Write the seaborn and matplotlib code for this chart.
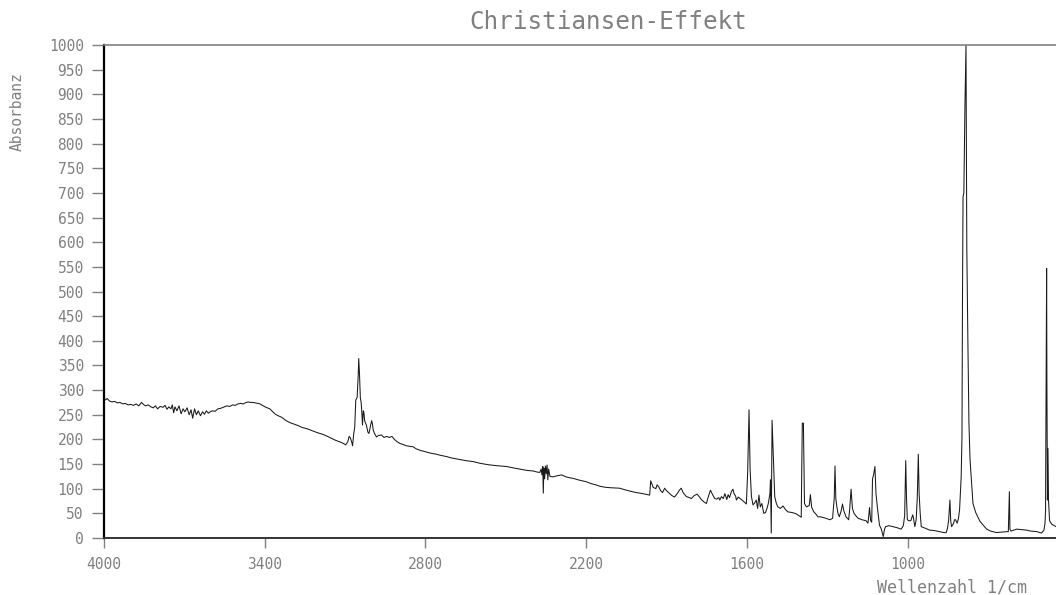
import matplotlib
matplotlib.use("Agg")
import matplotlib.pyplot as plt
import seaborn as sns
import pandas as pd

# Wavenumber (1/cm) and absorbance values
wellenzahl = [
    4000, 3995, 3988, 3980, 3970, 3960, 3950, 3940, 3930, 3920, 3910, 3900, 3890, 3880, 3870,
    3860, 3853, 3845, 3835, 3825, 3816, 3808, 3800, 3790, 3780, 3772, 3765, 3758, 3750, 3745,
    3740, 3735, 3728, 3720, 3712, 3705, 3698, 3690, 3682, 3675, 3669, 3662, 3655, 3648, 3640,
    3632, 3625, 3618, 3610, 3604, 3595, 3585, 3575, 3565, 3555, 3542, 3530, 3520, 3510, 3500,
    3490, 3480, 3470, 3460, 3455, 3445, 3435, 3425, 3418, 3405, 3395, 3381, 3370, 3360, 3350,
    3337, 3320, 3306, 3290, 3275, 3260, 3244, 3230, 3215, 3200, 3182, 3165, 3150, 3135, 3120,
    3107, 3098, 3090, 3085, 3080, 3075, 3072, 3068, 3064, 3060, 3055, 3051, 3049, 3046, 3043,
    3040, 3037, 3035, 3032, 3030, 3027, 3020, 3015, 3011, 3006, 3001, 2998, 2995, 2990, 2983,
    2975, 2964, 2955, 2945, 2935, 2925, 2914, 2905, 2896, 2885, 2871, 2858, 2846, 2835, 2821,
    2800, 2780, 2760, 2746, 2720, 2700, 2680, 2650, 2622, 2600, 2570, 2540, 2497, 2470, 2440,
    2420, 2398, 2385, 2373, 2368, 2365, 2362, 2360, 2358, 2355, 2352, 2349, 2346, 2343, 2340,
    2335, 2324, 2310, 2292, 2275, 2260, 2249, 2230, 2215, 2199, 2180, 2165, 2149, 2130, 2110,
    2075, 2050, 2020, 2000, 1980, 1963, 1959, 1955, 1950, 1940, 1935, 1928, 1922, 1915, 1907,
    1900, 1890, 1880, 1870, 1860, 1852, 1845, 1838, 1826, 1815, 1807, 1797, 1786, 1778, 1770,
    1760, 1751, 1745, 1736, 1728, 1720, 1712, 1705, 1701, 1695, 1688, 1682, 1675, 1670, 1665,
    1658, 1652, 1648, 1642, 1639, 1632, 1625, 1618, 1610, 1602, 1597, 1592, 1588, 1583, 1577,
    1570, 1565, 1560, 1555, 1550, 1544, 1537, 1530, 1525, 1520, 1514, 1512, 1509, 1506, 1502,
    1496, 1490, 1484, 1475, 1465, 1455, 1447, 1435, 1420, 1410, 1400, 1397, 1395, 1393, 1389,
    1387, 1385, 1378, 1367, 1363, 1358, 1350, 1340, 1335, 1325, 1305, 1290, 1280, 1274, 1271,
    1268, 1264, 1260, 1255, 1248, 1243, 1238, 1230, 1220, 1216, 1211, 1206, 1200, 1193, 1185,
    1170, 1155, 1148, 1142, 1138, 1134, 1131, 1127, 1122, 1118, 1113, 1105, 1098, 1091, 1086,
    1082, 1070, 1055, 1040, 1024, 1016, 1011, 1007, 1004, 1001, 995, 988, 981, 978, 973,
    968, 964, 960, 957, 953, 949, 935, 918, 900, 881, 865, 856, 851, 847, 842,
    839, 836, 828, 825, 821, 815, 810, 806, 800, 797, 795, 793, 790, 786, 782,
    779, 775, 771, 767, 762, 756, 746, 738, 730, 719, 705, 690, 668, 650, 624,
    620, 618, 614, 593, 575, 556, 540, 518, 500, 491, 487, 485, 483, 481, 480,
    478, 476, 474, 470, 462, 446,
]
absorbanz = [
    285, 280, 283, 278, 276, 277, 274, 275, 272, 273, 270, 271, 269, 272, 268,
    275, 271, 268, 270, 266, 264, 268, 262, 267, 265, 269, 261, 266, 262, 270,
    254, 266, 258, 268, 252, 262, 256, 264, 250, 260, 243, 262, 250, 258, 248,
    256, 251, 258, 253, 256, 258, 257, 262, 263, 265, 268, 267, 270, 269, 272,
    273, 272, 275, 276, 275, 275, 274, 273, 272, 268, 265, 262, 256, 251, 248,
    245, 238, 234, 231, 228, 224, 222, 219, 216, 213, 210, 206, 202, 198, 195,
    192, 189, 195, 206, 203, 194, 187, 210, 225, 280, 285, 330, 364, 330, 284,
    275, 250, 229, 258, 256, 238, 228, 215, 212, 225, 238, 232, 219, 212, 205,
    208, 209, 204, 206, 204, 206, 199, 195, 192, 190, 187, 186, 185, 181, 178,
    175, 172, 170, 168, 165, 162, 160, 157, 155, 152, 149, 147, 145, 142, 139,
    137, 136, 134, 133, 140, 128, 145, 91, 142, 120, 146, 130, 148, 118, 140,
    125, 124, 126, 128, 124, 122, 121, 118, 116, 114, 110, 108, 105, 103, 102,
    101, 97, 93, 91, 89, 87, 116, 110, 103, 100, 108, 103, 96, 92, 101,
    96, 91, 86, 83, 90, 97, 101, 92, 84, 82, 80, 86, 89, 84, 78,
    73, 70, 82, 97, 88, 80, 79, 82, 77, 84, 80, 90, 78, 88, 82,
    94, 99, 90, 85, 77, 83, 80, 77, 73, 69, 134, 260, 140, 84, 67,
    72, 77, 60, 87, 63, 70, 50, 52, 60, 70, 90, 118, 10, 239, 178,
    84, 70, 63, 60, 65, 57, 53, 52, 50, 47, 43, 42, 150, 233, 233,
    150, 70, 63, 66, 88, 62, 53, 47, 43, 43, 40, 37, 40, 80, 146,
    80, 63, 50, 43, 55, 69, 55, 43, 37, 60, 99, 60, 50, 45, 40,
    37, 35, 30, 62, 35, 32, 120, 128, 145, 90, 63, 26, 18, 3, 18,
    23, 25, 23, 21, 18, 25, 45, 157, 80, 37, 35, 35, 47, 40, 23,
    37, 80, 170, 90, 50, 23, 20, 16, 15, 13, 11, 11, 20, 35, 77,
    35, 23, 30, 37, 37, 30, 40, 57, 124, 205, 500, 692, 700, 875, 1000,
    591, 400, 233, 160, 118, 70, 52, 43, 34, 27, 18, 14, 11, 12, 13,
    94, 18, 14, 18, 17, 16, 14, 13, 10, 16, 30, 57, 320, 547, 320,
    77, 182, 77, 35, 28, 23,
]

x_ticks = [4000, 3400, 2800, 2200, 1600, 1000]
y_ticks = list(range(0, 1001, 50))

df = pd.DataFrame({"Wellenzahl": wellenzahl, "Absorbanz": absorbanz})

sns.set_style("ticks")
plt.rcParams["font.family"] = ["DejaVu Sans Mono", "DejaVu Sans"]

gray = "#808080"
fig = plt.figure(figsize=(10.56, 5.95), dpi=100)
ax = fig.add_axes([104 / 1056, 1 - 538 / 595, 952 / 1056, (538 - 45) / 595])

sns.lineplot(data=df, x="Wellenzahl", y="Absorbanz", estimator=None, sort=False,
             color="#1a1a1a", linewidth=0.75, ax=ax)

ax.set_xlim(4000, 446)
ax.set_ylim(0, 1000)
ax.set_xticks(x_ticks)
ax.set_xticklabels([str(t) for t in x_ticks])
ax.set_yticks(y_ticks)
ax.set_yticklabels([str(t) for t in y_ticks])
ax.set_xlabel("")
ax.set_ylabel("")

ax.tick_params(axis="y", direction="out", length=8.5, width=1.0, color=gray,
               labelcolor=gray, labelsize=10.5, pad=6)
ax.tick_params(axis="x", direction="out", length=7, width=1.0, color=gray,
               labelcolor=gray, labelsize=10.5, pad=7)

ax.spines["left"].set_color("black")
ax.spines["left"].set_linewidth(1.6)
ax.spines["bottom"].set_color("#333333")
ax.spines["bottom"].set_linewidth(1.4)
ax.spines["top"].set_visible(True)
ax.spines["top"].set_color(gray)
ax.spines["top"].set_linewidth(1.2)
ax.spines["right"].set_visible(False)

fig.text(608 / 1056, 1 - 22 / 595, "Christiansen-Effekt", ha="center", va="center",
         fontsize=17.5, color=gray)
fig.text(17 / 1056, 1 - 112 / 595, "Absorbanz", rotation=90, ha="center", va="center",
         fontsize=10.5, color=gray)
fig.text(952 / 1056, 1 - 588 / 595, "Wellenzahl 1/cm", ha="center", va="center",
         fontsize=12, color=gray)

fig.savefig("out.png", dpi=100)
